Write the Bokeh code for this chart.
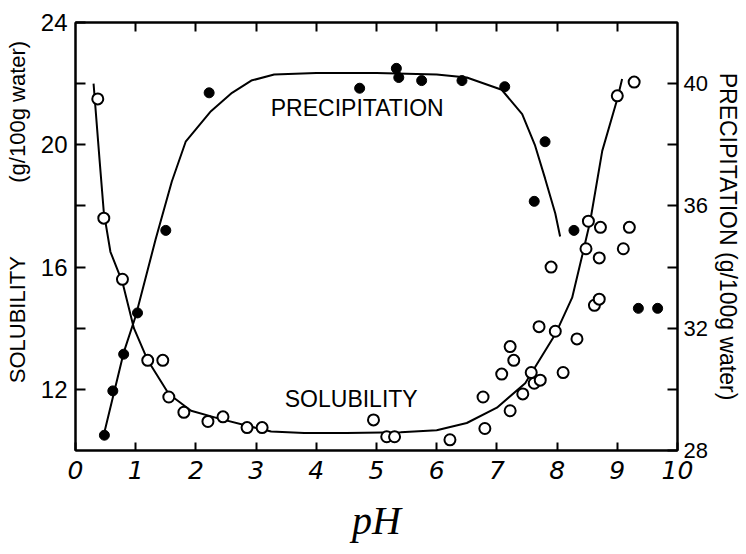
from bokeh.plotting import figure
from bokeh.models import Range1d, LinearAxis, FixedTicker, Label
from bokeh.embed import file_html
from bokeh.resources import INLINE

# ---- data ----
sol_ph = [0.37, 0.47, 0.78, 1.2, 1.45, 1.55, 1.8, 2.2, 2.45, 2.85, 3.1, 4.95, 5.17, 5.3,
          6.22, 6.77, 6.8, 7.08, 7.22, 7.28, 7.22, 7.43, 7.57, 7.62, 7.72, 7.7, 7.9, 7.97,
          8.1, 8.33, 8.48, 8.52, 8.62, 8.7, 8.7, 8.72, 9.0, 9.1, 9.2, 9.28]
sol_val = [21.5, 17.6, 15.6, 12.95, 12.95, 11.75, 11.25, 10.95, 11.1, 10.75, 10.75, 11.0, 10.45, 10.45,
           10.35, 11.75, 10.72, 12.5, 13.4, 12.95, 11.3, 11.85, 12.55, 12.2, 12.3, 14.05, 16.0, 13.9,
           12.55, 13.65, 16.6, 17.5, 14.75, 14.95, 16.3, 17.3, 21.6, 16.6, 17.3, 22.05]

sol_curve_ph = [0.3, 0.4, 0.47, 0.58, 0.78, 0.97, 1.2, 1.55, 1.92, 2.37, 2.87, 3.25, 3.8, 4.5,
                5.4, 6.0, 6.5, 7.0, 7.47, 7.97, 8.25, 8.42, 8.55, 8.75, 9.0, 9.08]
sol_curve_val = [22.0, 19.5, 17.8, 16.5, 15.5, 14.0, 12.95, 11.85, 11.3, 11.05, 10.8, 10.62, 10.57, 10.57,
                 10.6, 10.66, 10.9, 11.4, 12.2, 13.8, 15.0, 16.4, 17.5, 19.8, 21.5, 22.15]

prec_ph = [0.48, 0.62, 0.8, 1.03, 1.5, 2.22, 4.72, 5.33, 5.37, 5.75, 6.42, 7.13, 7.8, 7.62,
           8.28, 9.35, 9.67]
prec_val = [28.5, 29.95, 31.15, 32.5, 35.2, 39.7, 39.85, 40.5, 40.2, 40.1, 40.1, 39.9, 38.1, 36.15,
            35.2, 32.65, 32.65]

prec_curve_ph = [0.48, 0.8, 1.0, 1.33, 1.6, 1.83, 2.25, 2.6, 2.92, 3.3, 4.0, 5.0, 6.0, 6.5,
                 7.08, 7.42, 7.63, 7.8, 7.97, 8.05]
prec_curve_val = [28.6, 31.2, 32.4, 34.9, 36.8, 38.1, 39.1, 39.7, 40.1, 40.3, 40.35, 40.35, 40.3, 40.2,
                  39.8, 39.0, 38.0, 36.9, 35.75, 35.0]

x_ticks = list(range(0, 11))
x_tick_labels = [str(v) for v in x_ticks]
left_major = [12, 16, 20, 24]
left_minor = [14, 18, 22]
right_major = [28, 32, 36, 40]
right_minor = [30, 34, 38]

SANS = "Liberation Sans"
NB = "\u00a0"

p = figure(width=746, height=554, x_range=Range1d(0, 10), y_range=Range1d(10, 24),
           output_backend="svg", toolbar_location=None,
           min_border_left=75, min_border_right=69, min_border_top=22, min_border_bottom=104)
p.extra_y_ranges = {"prec": Range1d(28, 42)}
p.xgrid.visible = False
p.ygrid.visible = False
p.outline_line_color = "black"
p.outline_line_width = 2
p.background_fill_color = "white"
p.border_fill_color = "white"

def style_axis(ax):
    ax.axis_line_width = 2
    ax.axis_line_color = "black"
    ax.major_tick_line_width = 2
    ax.minor_tick_line_width = 2
    ax.major_tick_out = 0
    ax.minor_tick_out = 0
    ax.major_tick_in = 10
    ax.minor_tick_in = 10
    ax.major_label_text_color = "black"
    ax.axis_label_text_color = "black"
    ax.axis_label_text_font_style = "normal"
    ax.axis_label_text_line_height = 1.0
    ax.major_label_text_line_height = 1.0

# bottom axis
xa = p.xaxis[0]
style_axis(xa)
xa.ticker = FixedTicker(ticks=x_ticks, minor_ticks=[])
xa.major_label_overrides = {v: s for v, s in zip(x_ticks, x_tick_labels)}
xa.major_label_text_font = "DejaVu Sans"
xa.major_label_text_font_style = "italic"
xa.major_label_text_font_size = "25px"
xa.major_label_standoff = 10
xa.major_tick_in = 8
xa.axis_label = "pH"
xa.axis_label_text_font = "Liberation Serif"
xa.axis_label_text_font_style = "italic"
xa.axis_label_text_font_size = "40px"
xa.axis_label_standoff = 16

# left axis
ya = p.yaxis[0]
style_axis(ya)
ya.ticker = FixedTicker(ticks=left_major, minor_ticks=left_minor)
ya.major_label_text_font = SANS
ya.major_label_text_font_size = "24px"
ya.major_label_standoff = 8
ya.axis_label = NB * 8 + "SOLUBILITY" + NB * 12 + "(g/100g water)"
ya.axis_label_text_font = SANS
ya.axis_label_text_font_size = "22px"
ya.axis_label_standoff = 8

# right axis
ra = LinearAxis(y_range_name="prec")
style_axis(ra)
ra.ticker = FixedTicker(ticks=right_major, minor_ticks=right_minor)
ra.major_label_text_font = SANS
ra.major_label_text_font_size = "22px"
ra.major_label_standoff = 6
ra.axis_label = "PRECIPITATION (g/100g water)"
ra.axis_label_text_font = SANS
ra.axis_label_text_font_size = "23px"
ra.axis_label_standoff = 4
p.add_layout(ra, "right")

# top axis (ticks only)
ta = LinearAxis()
style_axis(ta)
ta.ticker = FixedTicker(ticks=list(range(1, 10)), minor_ticks=[])
ta.major_label_overrides = {v: "" for v in range(0, 11)}
ta.major_tick_in = 9
p.add_layout(ta, "above")

# curves
p.line(sol_curve_ph, sol_curve_val, line_color="black", line_width=2)
p.line(prec_curve_ph, prec_curve_val, line_color="black", line_width=2, y_range_name="prec")

# points
p.scatter(prec_ph, prec_val, marker="circle", size=10, fill_color="black",
          line_color="black", y_range_name="prec")
p.scatter(sol_ph, sol_val, marker="circle", size=11, fill_color="white",
          line_color="black", line_width=2)

# in-plot annotations
p.add_layout(Label(x=4.68, y=21.19, text="PRECIPITATION", text_font=SANS,
                   text_font_size="23px", text_align="center", text_baseline="middle",
                   text_color="black"))
p.add_layout(Label(x=4.58, y=11.67, text="SOLUBILITY", text_font=SANS,
                   text_font_size="23px", text_align="center", text_baseline="middle",
                   text_color="black"))

open("out.html", "w").write(file_html(p, INLINE))
